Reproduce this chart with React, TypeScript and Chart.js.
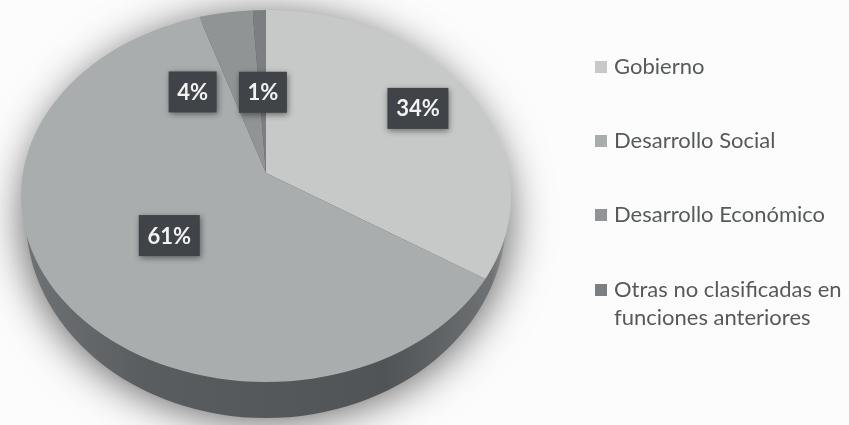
import React, { useEffect, useRef } from "react";
import { Chart, registerables } from "chart.js";

Chart.register(...registerables);

const categories = ["Gobierno", "Desarrollo Social", "Desarrollo Económico", "Otras no clasificadas en funciones anteriores"];
const legendLines = [["Gobierno"], ["Desarrollo Social"], ["Desarrollo Económico"], ["Otras no clasificadas en", "funciones anteriores"]];
const values = [34, 61, 4, 1];
const sliceColors = ["#c6c9c8", "#aaadad", "#909495", "#7c7f81"];
const labelNudges = [[38, -17], [6, 2], [-49, 16], [1, 18]];
const legendRows = [67, 141, 215, 290];

const BG = "#fbfcfb";
const APEX_K = 1.62;
const TILT = 0.76;
const TOP = { x: 266, y: 196, rx: 245, ry: 186 };
const SIDE = { x: 266, y: 218, rx: 240, ry: 200 };

const pie3d = {
  id: "pie3d",
  beforeDatasetsDraw(chart: any) {
    const ctx = chart.ctx;
    ctx.save();
    ctx.shadowColor = "rgba(0,0,0,0.7)";
    ctx.shadowBlur = 45;
    ctx.shadowOffsetY = 0;
    const g = ctx.createLinearGradient(SIDE.x - SIDE.rx, 0, SIDE.x + SIDE.rx, 0);
    g.addColorStop(0, "#6f7274");
    g.addColorStop(0.25, "#5a5d60");
    g.addColorStop(0.75, "#515457");
    g.addColorStop(0.97, "#6f7274");
    g.addColorStop(1, "#8c8f90");
    ctx.fillStyle = g;
    ctx.beginPath();
    ctx.ellipse(SIDE.x, SIDE.y, SIDE.rx, SIDE.ry, 0, 0, Math.PI * 2);
    ctx.fill();
    ctx.restore();
  },
  beforeDatasetDraw(chart: any) {
    const ctx = chart.ctx;
    const el = chart.getDatasetMeta(0).data[0];
    ctx.save();
    ctx.beginPath();
    ctx.ellipse(TOP.x, TOP.y, TOP.rx, TOP.ry, 0, 0, Math.PI * 2);
    ctx.clip();
    ctx.translate(el.x, el.y);
    ctx.scale(APEX_K, APEX_K * TILT);
    ctx.translate(-el.x, -el.y);
  },
  afterDatasetDraw(chart: any) {
    chart.ctx.restore();
  },
  afterDatasetsDraw(chart: any) {
    const ctx = chart.ctx;
    const meta = chart.getDatasetMeta(0);
    meta.data.forEach((el: any, i: number) => {
      const mid = (el.startAngle + el.endAngle) / 2;
      const x = el.x + Math.cos(mid) * 130 + labelNudges[i][0];
      const y = el.y + Math.sin(mid) * 130 * TILT + labelNudges[i][1];
      const text = values[i] + "%";
      const w = i < 2 ? 61 : 48;
      const h = 41;
      ctx.save();
      ctx.shadowColor = "rgba(0,0,0,0.45)";
      ctx.shadowBlur = 6;
      ctx.shadowOffsetX = 1;
      ctx.shadowOffsetY = 2;
      ctx.fillStyle = "#404347";
      ctx.fillRect(x - w / 2, y - h / 2, w, h);
      ctx.restore();
      ctx.fillStyle = "#f1f2f2";
      ctx.font = "bold 22px Lato";
      ctx.textAlign = "center";
      ctx.textBaseline = "middle";
      ctx.fillText(text, x, y + 1);
    });
    categories.forEach((_, i) => {
      const cy = legendRows[i];
      ctx.fillStyle = sliceColors[i];
      ctx.fillRect(595, cy - 6, 12, 12);
      ctx.fillStyle = "#565a5c";
      ctx.font = "22px Lato";
      ctx.textAlign = "left";
      ctx.textBaseline = "middle";
      legendLines[i].forEach((line, j) => ctx.fillText(line, 614, cy + j * 28));
    });
  },
};

export default function App() {
  const ref = useRef<HTMLCanvasElement>(null);
  useEffect(() => {
    const chart = new Chart(ref.current as HTMLCanvasElement, {
      type: "pie",
      data: {
        labels: categories,
        datasets: [{ data: values, backgroundColor: sliceColors, borderWidth: 0 }],
      },
      options: {
        animation: false,
        responsive: false,
        layout: { padding: { right: 317, bottom: 79 } },
        plugins: { legend: { display: false }, tooltip: { enabled: false } },
      },
      plugins: [pie3d],
    } as any);
    return () => chart.destroy();
  }, []);
  return (
    <div style={{ position: "fixed", inset: 0, background: BG }}>
      <canvas ref={ref} width={849} height={425} style={{ position: "absolute", left: 0, top: 0, display: "block" }} />
    </div>
  );
}
